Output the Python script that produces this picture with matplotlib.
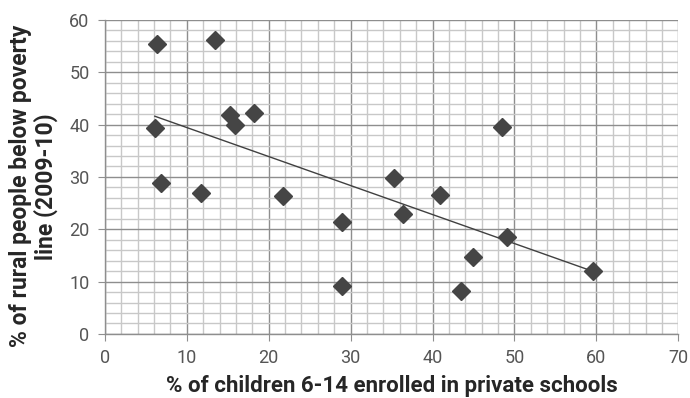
import numpy as np
import matplotlib
matplotlib.use("Agg")
import matplotlib.pyplot as plt
from matplotlib.ticker import MultipleLocator

plt.rcParams["font.family"] = ["Roboto", "DejaVu Sans"]

# private-school enrolment (%) vs rural poverty (%), one point per state
private_pct = [6.4, 13.4, 6.1, 6.8, 15.3, 15.9, 18.2, 11.7, 21.7, 28.9, 28.9,
               35.3, 36.4, 40.9, 48.5, 43.5, 44.9, 49.1, 59.6]
poverty_pct = [55.4, 56.2, 39.4, 28.9, 41.9, 39.9, 42.2, 26.9, 26.4, 21.3, 9.2,
               29.7, 22.9, 26.5, 39.6, 8.2, 14.7, 18.6, 12.1]

x = np.array(private_pct)
y = np.array(poverty_pct)

fig = plt.figure(figsize=(6.9, 3.98), dpi=100)
ax = fig.add_axes([0.152, 0.161, 0.831, 0.789])

ax.set_xlim(0, 70)
ax.set_ylim(0, 60)
ax.xaxis.set_major_locator(MultipleLocator(10))
ax.yaxis.set_major_locator(MultipleLocator(10))
ax.xaxis.set_minor_locator(MultipleLocator(2))
ax.yaxis.set_minor_locator(MultipleLocator(2))

ax.grid(which="minor", color="#c8c8c8", lw=1.0, zorder=0)
ax.grid(which="major", color="#8e8e8e", lw=1.0, zorder=0)
ax.set_axisbelow(True)

for side in ("top", "right"):
    ax.spines[side].set_visible(False)
for side in ("left", "bottom"):
    ax.spines[side].set_color("#8e8e8e")
    ax.spines[side].set_linewidth(1.0)

ax.tick_params(which="major", length=5, color="#8e8e8e", labelsize=13,
               labelcolor="#555555", pad=6)
ax.tick_params(which="minor", length=0)

ax.plot(x, y, ls="none", marker="D", ms=9.5, color="#454545",
        markeredgecolor="#454545", zorder=4)

# linear trend over the data range
b, a = np.polyfit(x, y, 1)
xs = np.array([x.min(), x.max()])
ax.plot(xs, b * xs + a, color="#404040", lw=1.0, zorder=3)

ax.set_xlabel("% of children 6-14 enrolled in private schools",
              fontsize=16, fontweight="bold", color="#262626")
ax.xaxis.set_label_coords(0.5, -0.132)
ax.set_ylabel("% of rural people below poverty\nline (2009-10)",
              fontsize=16.5, fontweight="bold", color="#262626",
              linespacing=1.1)
ax.yaxis.set_label_coords(-0.082, 0.47)

fig.savefig("out.png", dpi=100)
